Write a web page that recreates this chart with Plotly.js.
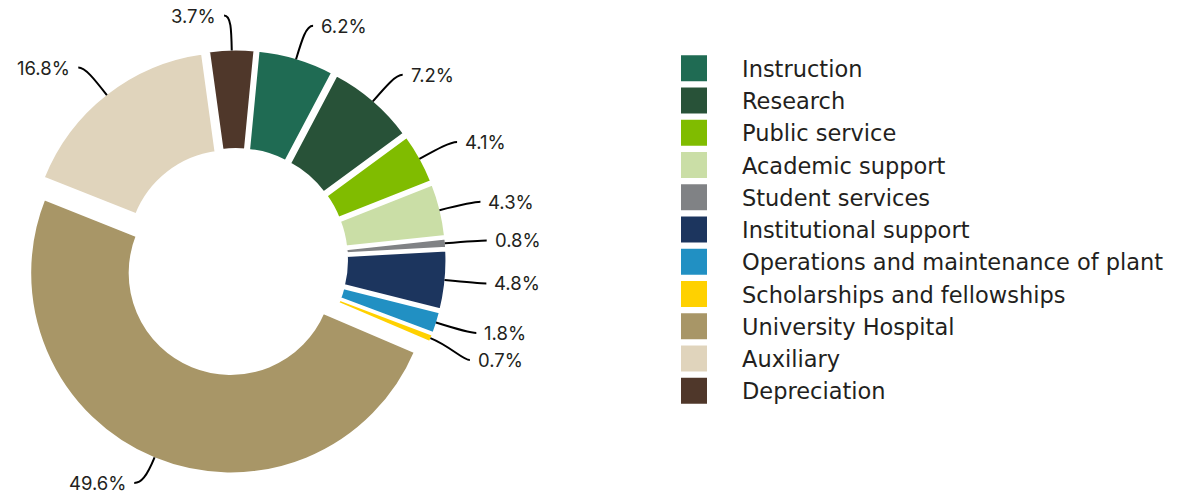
<!DOCTYPE html>
<html><head><meta charset="utf-8">
<script src="https://cdn.plot.ly/plotly-3.0.1.min.js"></script>
<style>html,body{margin:0;padding:0;background:#fff}#chart{width:1189px;height:497px}</style>
</head><body><div id="chart"></div>
<script>
// ---- data ----
const categories = ["Instruction", "Research", "Public service", "Academic support", "Student services",
  "Institutional support", "Operations and maintenance of plant", "Scholarships and fellowships",
  "University Hospital", "Auxiliary", "Depreciation"];
const shares = [6.2, 7.2, 4.1, 4.3, 0.8, 4.8, 1.8, 0.7, 49.6, 16.8, 3.7];
const percentLabels = ["6.2%", "7.2%", "4.1%", "4.3%", "0.8%", "4.8%", "1.8%", "0.7%", "49.6%", "16.8%", "3.7%"];

// ---- styles ----
const sliceColors = ["#1f6b53", "#285238", "#80bc00", "#cadea6", "#808285", "#1c355e",
  "#2190c3", "#ffd100", "#a89667", "#e0d4bc", "#4f372a"];
const slicePull = [0.05, 0.05, 0.05, 0.05, 0.05, 0.05, 0.05, 0.05, 0.07, 0.05, 0.05];

const W = 1189, H = 497;
const ROT = 5.5, HOLE = 0.5, LINE_W = 3;
const DOM_X = [21 / W, 451 / W], DOM_Y = [1 - 475 / H, 1 - 45 / H];
const LEGEND_FONT = "'DejaVu Sans', Inter, sans-serif";
const LABEL_FONT = "Inter, 'Open Sans', sans-serif";
const TXT = "#231f20";

// pie geometry as the library computes it (used only for label leader placement)
const boxW = W * (DOM_X[1] - DOM_X[0]), boxH = H * (DOM_Y[1] - DOM_Y[0]);
const R = Math.min(boxW, boxH) / 2 / (1 + Math.max(...slicePull));
const cx = W * (DOM_X[0] + DOM_X[1]) / 2, cy = H * (1 - (DOM_Y[0] + DOM_Y[1]) / 2);
const total = shares.reduce((a, b) => a + b, 0);

const annotations = [], shapes = [];
const px = x => x / W, py = y => 1 - y / H;
const MIN_GAP = 27, MAX_Y = H - 14;
let cum = 0, lastRightY = -1e9;
shares.forEach((v, i) => {
  const th = (ROT + (cum + v / 2) / total * 360) * Math.PI / 180;
  cum += v;
  const dx = Math.sin(th), dy = -Math.cos(th);
  const r0 = R * (1 + slicePull[i]) - LINE_W / 2;
  const L = 35;
  const ax = cx + r0 * dx, ay = cy + r0 * dy;
  let ex = ax + L * dx, ey = Math.min(ay + L * dy, MAX_Y);
  const sx = dx >= 0 ? 1 : -1;
  if (sx > 0) {
    if (ey < lastRightY + MIN_GAP) ey = lastRightY + MIN_GAP;
    lastRightY = ey;
  }
  const c1x = ax + L * 0.6 * dx, c1y = ay + L * 0.6 * dy;
  const hx = ex + sx * 7, hy = ey;
  const path = `M${px(ax)},${py(ay)} C${px(c1x)},${py(c1y)} ${px(ex)},${py(ey)} ${px(hx)},${py(hy)}`;
  shapes.push({type: "path", xref: "paper", yref: "paper", path: path,
    line: {color: "#000", width: 2}});
  annotations.push({xref: "paper", yref: "paper", x: px(hx + sx * 6), y: py(hy),
    xanchor: sx > 0 ? "left" : "right", yanchor: "middle", showarrow: false,
    text: percentLabels[i], font: {family: LABEL_FONT, size: 18.5, color: TXT}});
});

const trace = {
  type: "pie", labels: categories, values: shares, sort: false, direction: "clockwise",
  rotation: ROT, hole: HOLE, pull: slicePull, textinfo: "none", hoverinfo: "label+percent",
  marker: {colors: sliceColors, line: {color: "#ffffff", width: LINE_W}},
  domain: {x: DOM_X, y: DOM_Y}
};

const layout = {
  width: W, height: H, margin: {l: 0, r: 0, t: 0, b: 0},
  paper_bgcolor: "#fff", plot_bgcolor: "#fff",
  showlegend: true,
  legend: {x: 646 / W, xanchor: "left", y: 1 - 47 / H, yanchor: "top",
    font: {family: LEGEND_FONT, size: 22.5, color: TXT}, itemwidth: 86, bgcolor: "rgba(0,0,0,0)"},
  annotations: annotations, shapes: shapes
};

Plotly.newPlot("chart", [trace], layout, {displayModeBar: false, staticPlot: true}).then(() => {
  document.querySelectorAll("path.legendpie").forEach(p => p.setAttribute("d", "M14.5,14.5H-14.5V-14.5H14.5Z"));
});
</script></body></html>
